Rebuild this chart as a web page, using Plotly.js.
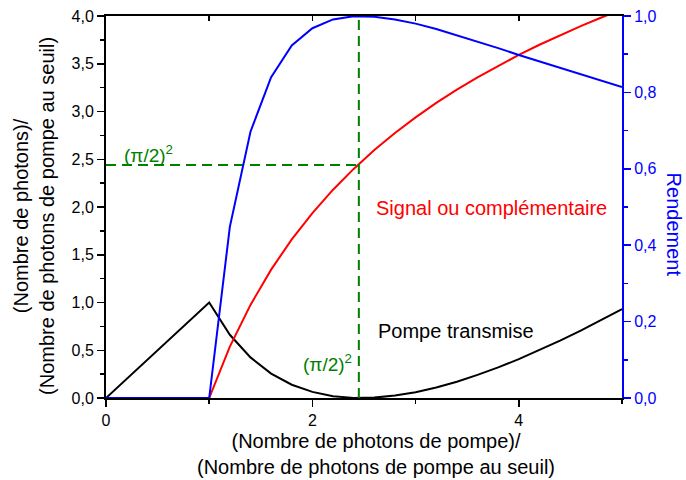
<!DOCTYPE html>
<html>
<head>
<meta charset="utf-8">
<script src="https://cdn.plot.ly/plotly-3.0.1.min.js"></script>
<style>html,body{margin:0;padding:0;background:#fff;}#chart{width:686px;height:480px;}</style>
</head>
<body>
<div id="chart"></div>
<script>
// Pump photons / threshold pump photons
const pumpRatio = [0, 1.0, 1.2, 1.4, 1.6, 1.8, 2.0, 2.2, 2.4, 2.6, 2.8, 3.0, 3.2, 3.4, 3.6, 3.8, 4.0, 4.2, 4.4, 4.6, 4.8, 5.0];
// Signal (or idler) photons, left axis
const signalPhotons = [0, 0, 0.538, 0.975, 1.344, 1.661, 1.936, 2.181, 2.399, 2.596, 2.775, 2.939, 3.090, 3.229, 3.358, 3.480, 3.593, 3.699, 3.799, 3.894, 3.984, 4.069];
// Transmitted pump photons, left axis
const pumpTransmitted = [0, 1.0, 0.662, 0.425, 0.256, 0.139, 0.064, 0.019, 0.001, 0.004, 0.025, 0.061, 0.110, 0.171, 0.242, 0.320, 0.407, 0.501, 0.601, 0.706, 0.817, 0.931];
// Efficiency, right axis
const rendement = [0, 0, 0.448, 0.697, 0.840, 0.923, 0.968, 0.991, 0.9995, 0.998, 0.991, 0.980, 0.966, 0.950, 0.933, 0.916, 0.898, 0.881, 0.864, 0.847, 0.830, 0.814];
// Guide lines at (pi/2)^2
const guideHX = [0, 2.45];
const guideHY = [2.44, 2.44];
const guideVX = [2.45, 2.45];
const guideVY = [0, 4];
const leftTicks = [0, 0.5, 1.0, 1.5, 2.0, 2.5, 3.0, 3.5, 4.0];
const rightTicks = [0, 0.2, 0.4, 0.6, 0.8, 1.0];
const bottomTicks = [0, 2, 4];

const FONT = 'Liberation Sans, Arial, sans-serif';
const GREEN = '#008000';
const dash = '10px,6px';

const traces = [
  {x: guideHX, y: guideHY, xaxis: 'x', yaxis: 'y', mode: 'lines', line: {color: GREEN, width: 2, dash: dash}, hoverinfo: 'skip'},
  {x: guideVX, y: guideVY, xaxis: 'x2', yaxis: 'y', mode: 'lines', line: {color: GREEN, width: 2, dash: dash}, hoverinfo: 'skip'},
  {x: pumpRatio, y: pumpTransmitted, xaxis: 'x', yaxis: 'y', mode: 'lines', line: {color: 'black', width: 2}},
  {x: pumpRatio, y: signalPhotons, xaxis: 'x', yaxis: 'y', mode: 'lines', line: {color: 'red', width: 2}},
  {x: pumpRatio, y: rendement, xaxis: 'x', yaxis: 'y2', mode: 'lines', line: {color: 'blue', width: 2}}
];

const layout = {
  width: 686, height: 480,
  margin: {l: 106, r: 64, t: 16, b: 82},
  paper_bgcolor: 'white', plot_bgcolor: 'white',
  showlegend: false,
  separators: ', ',
  font: {family: FONT, size: 16, color: 'black'},
  xaxis: {
    range: [0, 5], tickvals: bottomTicks, ticktext: bottomTicks.map(String),
    ticks: 'outside', ticklen: 7, tickwidth: 1.5, tickcolor: 'black',
    minor: {dtick: 1, tick0: 0, ticks: 'outside', ticklen: 4, tickwidth: 1.5, tickcolor: 'black'},
    showline: true, linecolor: 'black', linewidth: 2, showgrid: false, zeroline: false,
    tickfont: {size: 16, family: FONT}
  },
  xaxis2: {
    range: [0, 5], overlaying: 'x', anchor: 'y', side: 'top', dtick: 1, tick0: 0,
    ticks: 'inside', ticklen: 5, tickwidth: 1.5, tickcolor: 'black', showticklabels: false,
    showline: true, linecolor: 'black', linewidth: 2, showgrid: false, zeroline: false
  },
  yaxis: {
    range: [0, 4], tickvals: leftTicks, tickformat: '.1f',
    ticks: 'outside', ticklen: 7, tickwidth: 1.5, tickcolor: 'black',
    minor: {dtick: 0.25, tick0: 0, ticks: 'outside', ticklen: 4, tickwidth: 1.5, tickcolor: 'black'},
    showline: true, linecolor: 'black', linewidth: 2, showgrid: false, zeroline: false,
    tickfont: {size: 16, family: FONT}
  },
  yaxis2: {
    range: [0, 1], overlaying: 'y', anchor: 'x', side: 'right', tickvals: rightTicks, tickformat: '.1f',
    ticks: 'outside', ticklen: 7, tickwidth: 1.5, tickcolor: 'blue',
    minor: {dtick: 0.1, tick0: 0, ticks: 'outside', ticklen: 4, tickwidth: 1.5, tickcolor: 'blue'},
    showline: true, linecolor: 'blue', linewidth: 2, showgrid: false, zeroline: false,
    tickfont: {size: 16, family: FONT, color: 'blue'}
  },
  annotations: [
    {xref: 'x', yref: 'y', x: 0.416, y: 2.56, text: '(π/2)<sup>2</sup>', showarrow: false,
     font: {size: 19, color: GREEN, family: FONT}, xanchor: 'center', yanchor: 'middle'},
    {xref: 'x', yref: 'y', x: 2.40, y: 0.37, text: '(π/2)<sup>2</sup>', showarrow: false,
     font: {size: 19, color: GREEN, family: FONT}, xanchor: 'right', yanchor: 'middle'},
    {xref: 'x', yref: 'y', x: 2.60, y: 1.99, text: 'Signal ou complémentaire', showarrow: false,
     font: {size: 20, color: 'red', family: FONT}, xanchor: 'left', yanchor: 'middle'},
    {xref: 'x', yref: 'y', x: 2.62, y: 0.70, text: 'Pompe transmise', showarrow: false,
     font: {size: 20, color: 'black', family: FONT}, xanchor: 'left', yanchor: 'middle'},
    {xref: 'paper', yref: 'paper', x: 1.10, y: 0.455, text: 'Rendement', showarrow: false, textangle: 90,
     font: {size: 20, color: 'blue', family: FONT}, xanchor: 'center', yanchor: 'middle'},
    {xref: 'paper', yref: 'paper', x: -0.14, y: 0.476, text: '(Nombre de photons)/<br>(Nombre de photons de pompe au seuil)',
     showarrow: false, textangle: -90, font: {size: 20, color: 'black', family: FONT}, xanchor: 'center', yanchor: 'middle'},
    {xref: 'paper', yref: 'paper', x: 0.523, y: -0.147, text: '(Nombre de photons de pompe)/<br>(Nombre de photons de pompe au seuil)',
     showarrow: false, font: {size: 20, color: 'black', family: FONT}, xanchor: 'center', yanchor: 'middle'}
  ]
};

Plotly.newPlot('chart', traces, layout, {staticPlot: true, displayModeBar: false});
</script>
</body>
</html>
